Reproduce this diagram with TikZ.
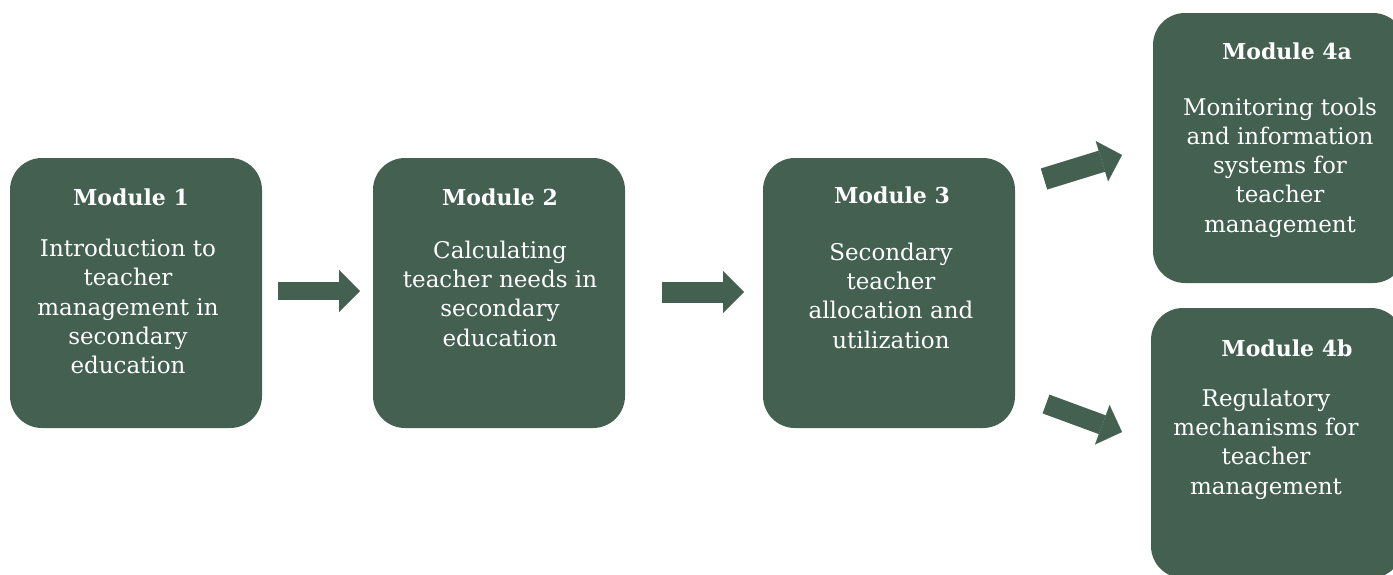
\documentclass[tikz,border=0pt]{standalone}
\usepackage{fontspec}
\setmainfont{DejaVu Serif}
\usetikzlibrary{arrows.meta}
\definecolor{boxgreen}{RGB}{67,96,81}
\begin{document}
\begin{tikzpicture}[x=1pt,y=-1pt,
  modbox/.style={fill=boxgreen, draw=none, rounded corners=32pt, minimum width=252pt, minimum height=270pt, inner sep=0pt, outer sep=0pt},
  modtitle/.style={text=white, font=\fontsize{22}{29.2}\selectfont\bfseries, anchor=base, inner sep=0pt},
  modbody/.style={text=white, font=\fontsize{23}{29.2}\selectfont, align=center, anchor=base, inner sep=0pt},
  blockarrow/.style={draw=boxgreen, line width=#1, -{Triangle[length=21pt,width=42pt,line width=0.1pt]}},
  blockarrow/.default=20pt,
]
\useasboundingbox (0,0) rectangle (1393,574);
% boxes
\node[modbox] (m1) at (136,293) {};
\node[modbox] (m2) at (499,293) {};
\node[modbox] (m3) at (889,293) {};
\node[modbox] (m4a) at (1279,148) {};
\node[modbox] (m4b) at (1277,443) {};
% titles
\node[modtitle] (m1t) at (131,205) {Module 1};
\node[modtitle] (m2t) at (500,205) {Module 2};
\node[modtitle] (m3t) at (892,203) {Module 3};
\node[modtitle] (m4at) at (1287,59) {Module 4a};
\node[modtitle] (m4bt) at (1287,356) {Module 4b};
% bodies (anchored at the baseline of their last line)
\node[modbody] (m1b) at (128,373.5) {Introduction to\\teacher\\management in\\secondary\\education};
\node[modbody] (m2b) at (500,346) {Calculating\\teacher needs in\\secondary\\education};
\node[modbody] (m3b) at (891,348) {Secondary\\teacher\\allocation and\\utilization};
\node[modbody] (m4ab) at (1280,232) {Monitoring tools\\and information\\systems for\\teacher\\management};
\node[modbody] (m4bb) at (1266,494) {Regulatory\\mechanisms for\\teacher\\management};
% arrows
\coordinate (a1s) at (278,291);
\coordinate (a1e) at (360,291);
\coordinate (a2s) at (662,292);
\coordinate (a2e) at (744,292);
\coordinate (a3s) at (1044,179);
\coordinate (a3e) at (1122,155);
\coordinate (a4s) at (1046,404);
\coordinate (a4e) at (1122,432);
\draw[blockarrow=18pt] (a1s) -- (a1e);
\draw[blockarrow=21pt] (a2s) -- (a2e);
\draw[blockarrow=22pt] (a3s) -- (a3e);
\draw[blockarrow=20pt] (a4s) -- (a4e);
\end{tikzpicture}
\end{document}
